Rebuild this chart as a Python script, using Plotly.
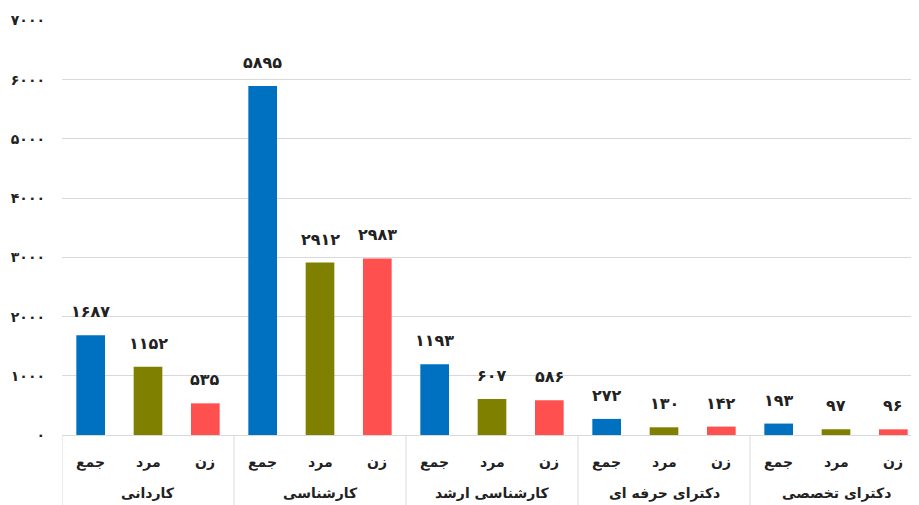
import plotly.graph_objects as go

groups = ["کاردانی", "کارشناسی", "کارشناسی ارشد", "دکترای حرفه ای", "دکترای تخصصی"]
subs = ["جمع", "مرد", "زن"]
values = {
    "کاردانی": [1687, 1152, 535],
    "کارشناسی": [5895, 2912, 2983],
    "کارشناسی ارشد": [1193, 607, 586],
    "دکترای حرفه ای": [272, 130, 142],
    "دکترای تخصصی": [193, 97, 96],
}
sub_colors = ["#0070C0", "#808000", "#FF5050"]
y_tickvals = [0, 1000, 2000, 3000, 4000, 5000, 6000, 7000]

FA = str.maketrans("0123456789", "۰۱۲۳۴۵۶۷۸۹")
def fa(n):
    return str(n).translate(FA)

xpos, yv, cols, sublab = [], [], [], []
k = 0
for g in groups:
    for i, s in enumerate(subs):
        xpos.append(k)
        yv.append(values[g][i])
        cols.append(sub_colors[i])
        sublab.append(s)
        k += 1
n_sub = len(subs)
n = len(xpos)

fig = go.Figure(go.Bar(
    x=xpos, y=yv, width=0.5, marker=dict(color=cols, line=dict(width=0)),
    hoverinfo="skip",
))

annotations = []
shapes = []
for j in range(n):
    annotations.append(dict(x=xpos[j], y=yv[j], xref="x", yref="y", yshift=12,
                            text="<b>" + fa(yv[j]) + "</b>", showarrow=False,
                            font=dict(size=16, color="#222222"), yanchor="bottom"))
for j, s in enumerate(sublab):
    annotations.append(dict(x=xpos[j], y=0, xref="x", yref="paper", yshift=-27,
                            text="<b>" + s + "</b>", showarrow=False,
                            font=dict(size=14, color="#222222"), yanchor="middle"))
for gi, g in enumerate(groups):
    center = gi * n_sub + (n_sub - 1) / 2
    annotations.append(dict(x=center, y=0, xref="x", yref="paper", yshift=-58,
                            text="<b>" + g + "</b>", showarrow=False,
                            font=dict(size=14, color="#222222"), yanchor="middle"))
for gi in range(len(groups) + 1):
    xb = gi * n_sub - 0.5
    shapes.append(dict(type="line", xref="x", yref="paper", x0=xb, x1=xb,
                       y0=0, y1=-0.25, line=dict(color="#d9d9d9", width=1)))

fig.update_layout(
    width=919, height=505,
    margin=dict(l=54, r=5, t=12, b=78),
    plot_bgcolor="white", paper_bgcolor="white",
    showlegend=False,
    font=dict(family="DejaVu Sans", size=14, color="#222222"),
    annotations=annotations, shapes=shapes,
)
fig.update_yaxes(
    range=[0, 7010], tickvals=y_tickvals,
    ticktext=["<b>" + fa(v) + "</b>" for v in y_tickvals],
    showgrid=True, gridcolor="#d9d9d9", gridwidth=1, zeroline=False,
    ticks="", ticklen=0, tickfont=dict(size=14), showline=False,
    automargin=False, ticklabelstandoff=16,
)
fig.update_xaxes(
    range=[-0.5, n - 0.5], showline=True, linecolor="#d9d9d9", linewidth=1,
    showticklabels=False, ticks="", showgrid=False, zeroline=False,
    automargin=False,
)
fig.write_html("out.html")
